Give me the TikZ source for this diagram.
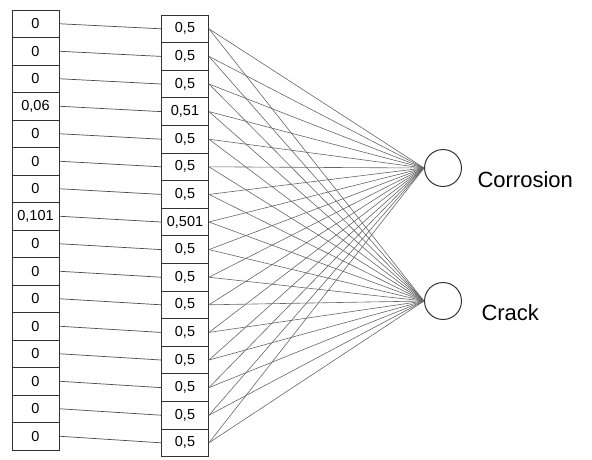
\documentclass[tikz,border=0pt]{standalone}
\usepackage{fontspec}
\setmainfont{Liberation Sans}
\begin{document}
\begin{tikzpicture}[x=1pt,y=-1pt,
  cell/.style={draw=black!80,line width=0.9pt,minimum width=47pt,minimum height=27.5pt,inner sep=0pt,font=\fontsize{14.5}{16}\selectfont},
  rcell/.style={cell,minimum height=27.6pt},
  link/.style={draw=black!70,line width=0.7pt},
  wire/.style={draw=black!60,line width=0.6pt},
  neuron/.style={circle,draw=black!80,line width=1pt,minimum size=37pt,inner sep=0pt},
  lab/.style={font=\fontsize{22}{26}\selectfont,anchor=west}]
\useasboundingbox (0,0) rectangle (592,459);
\foreach \i/\t in {1/0,2/0,3/0,4/{0,06},5/0,6/0,7/0,8/{0,101},9/0,10/0,11/0,12/0,13/0,14/0,15/0,16/0}{
  \node[cell] (L\i) at (35.5,{10+(\i-0.5)*27.5}) {\t};
}
\foreach \i/\t in {1/{0,5},2/{0,5},3/{0,5},4/{0,51},5/{0,5},6/{0,5},7/{0,5},8/{0,501},9/{0,5},10/{0,5},11/{0,5},12/{0,5},13/{0,5},14/{0,5},15/{0,5},16/{0,5}}{
  \node[rcell] (R\i) at (185,{15+(\i-0.5)*27.6}) {\t};
}
\node[neuron] (C1) at (443,168) {};
\node[neuron] (C2) at (443,301) {};
\node[lab] (T1) at (474,180) {Corrosion};
\node[lab] (T2) at (478,313) {Crack};
\foreach \i in {1,...,16}{
  \draw[link] (L\i.east) -- (R\i.west);
  \draw[wire] (R\i.east) -- (C1.west);
  \draw[wire] (R\i.east) -- (C2.west);
}
\end{tikzpicture}
\end{document}
